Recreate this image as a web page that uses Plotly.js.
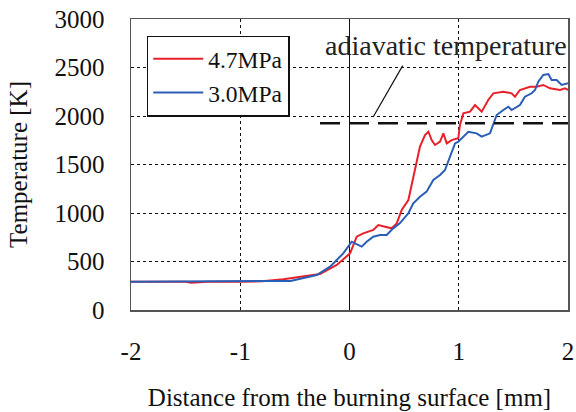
<!DOCTYPE html>
<html>
<head>
<meta charset="utf-8">
<script src="https://cdn.plot.ly/plotly-3.0.1.min.js"></script>
<style>
html,body{margin:0;padding:0;background:#fff;}
#chart{width:576px;height:412px;}
</style>
</head>
<body>
<div id="chart"></div>
<script>
// Distance from the burning surface [mm]
const x47 = [-2.0, -1.5, -1.45, -1.4, -1.35, -1.3, -1.0, -0.8, -0.606, -0.42, -0.27, -0.117, 0.005, 0.066, 0.126, 0.218, 0.264, 0.325, 0.386, 0.432, 0.478, 0.539, 0.584, 0.615, 0.645, 0.691, 0.722, 0.752, 0.783, 0.829, 0.859, 0.89, 0.935, 0.996, 1.011, 1.042, 1.103, 1.149, 1.21, 1.27, 1.316, 1.408, 1.484, 1.515, 1.56, 1.652, 1.713, 1.774, 1.835, 1.927, 1.973, 2.0];
const t47 = [290, 292, 282, 284, 281, 290, 292, 296, 316, 344, 371, 464, 584, 756, 790, 825, 876, 859, 842, 893, 1031, 1134, 1374, 1512, 1684, 1804, 1838, 1752, 1701, 1735, 1821, 1718, 1752, 1770, 1907, 2027, 2045, 2113, 2045, 2165, 2234, 2251, 2234, 2199, 2268, 2302, 2302, 2320, 2285, 2268, 2285, 2268];
const x30 = [-2.0, -1.6, -1.2, -0.8, -0.54, -0.30, -0.178, -0.057, 0.02, 0.05, 0.112, 0.157, 0.218, 0.279, 0.34, 0.40, 0.46, 0.539, 0.584, 0.645, 0.706, 0.767, 0.829, 0.874, 0.92, 0.966, 0.996, 1.042, 1.088, 1.164, 1.21, 1.286, 1.316, 1.347, 1.408, 1.454, 1.484, 1.56, 1.606, 1.667, 1.698, 1.728, 1.774, 1.82, 1.85, 1.896, 1.942, 2.0];
const t30 = [292, 294, 296, 298, 300, 360, 447, 584, 704, 687, 653, 704, 756, 773, 773, 842, 893, 997, 1100, 1168, 1220, 1340, 1392, 1443, 1580, 1718, 1735, 1787, 1838, 1821, 1787, 1821, 1907, 2010, 2062, 2096, 2062, 2113, 2199, 2234, 2268, 2354, 2423, 2433, 2371, 2371, 2320, 2337];
const seriesNames = ["4.7MPa", "3.0MPa"];
const adiabaticT = 1925;
const adiabaticX = [-0.27, 2.0];
const pointerX = [0.218, 0.487];
const pointerY = [1993, 2519];
const labelText = "adiavatic temperature";
const xTicks = [-2, -1, 0, 1, 2];
const yTicks = [0, 500, 1000, 1500, 2000, 2500, 3000];

const FONT = "Liberation Serif, Times New Roman, serif";

const traces = [
  {x: x47, y: t47, name: seriesNames[0], mode: "lines", line: {color: "#e8202a", width: 2}},
  {x: x30, y: t30, name: seriesNames[1], mode: "lines", line: {color: "#2a5db5", width: 2}},
  {x: adiabaticX, y: adiabaticX.map(() => adiabaticT), mode: "lines", showlegend: false, hoverinfo: "skip",
   line: {color: "#111", width: 2.5, dash: "20px,9px"}},
  {x: pointerX, y: pointerY, mode: "lines", showlegend: false, hoverinfo: "skip",
   line: {color: "#111", width: 1.2}}
];

const layout = {
  width: 576, height: 412,
  margin: {l: 131, r: 8, t: 19, b: 102},
  paper_bgcolor: "#fff", plot_bgcolor: "#fff",
  font: {family: FONT, size: 25, color: "#111"},
  showlegend: true,
  legend: {x: 0.036, y: 0.943, xanchor: "left", yanchor: "top",
    bordercolor: "#111", borderwidth: 1.5, bgcolor: "#fff", itemwidth: 50,
    font: {family: FONT, size: 23.5, color: "#111"}, tracegroupgap: 0},
  xaxis: {
    range: [-2, 2], tickvals: xTicks, ticktext: xTicks.map(String),
    showgrid: true, gridcolor: "#111", griddash: "3px,3px", gridwidth: 1,
    zeroline: true, zerolinecolor: "#111", zerolinewidth: 1.2,
    showline: true, mirror: true, linecolor: "#555", linewidth: 1.5,
    ticks: "", ticklabelstandoff: 18,
    tickfont: {family: FONT, size: 25, color: "#111"},
    title: {text: "Distance from the burning surface [mm]", standoff: 25,
      font: {family: FONT, size: 25, color: "#111"}}
  },
  yaxis: {
    range: [0, 3000], tickvals: yTicks, ticktext: yTicks.map(String),
    showgrid: true, gridcolor: "#111", griddash: "3px,3px", gridwidth: 1,
    zeroline: false,
    showline: true, mirror: true, linecolor: "#555", linewidth: 1.5,
    ticks: "", ticklabelstandoff: 20,
    tickfont: {family: FONT, size: 25, color: "#111"},
    title: {text: "Temperature [K]", standoff: 20,
      font: {family: FONT, size: 25, color: "#111"}}
  },
  annotations: [
    {x: 0.883, y: 2732, xref: "x", yref: "y", text: labelText, showarrow: false,
     xanchor: "center", yanchor: "middle",
     font: {family: FONT, size: 28, color: "#222"}}
  ]
};

Plotly.newPlot("chart", traces, layout, {displayModeBar: false, staticPlot: true});
</script>
</body>
</html>
